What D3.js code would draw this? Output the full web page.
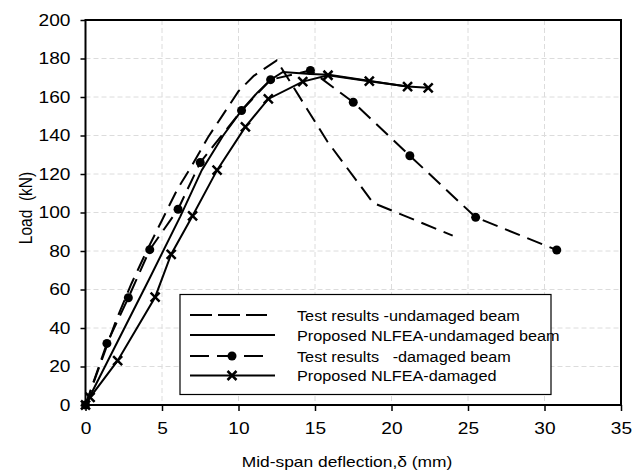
<!DOCTYPE html>
<html>
<head>
<meta charset="utf-8">
<script src="https://cdn.jsdelivr.net/npm/d3@7"></script>
<style>
  html, body { margin: 0; padding: 0; background: #fff; }
  svg { display: block; }
  text { font-family: "Liberation Sans", Arial, sans-serif; fill: #000; }
</style>
</head>
<body>
<svg id="chart" width="641" height="474"></svg>
<script>
// ---- data ----
const xTicks = [0, 5, 10, 15, 20, 25, 30, 35];
const yTicks = [0, 20, 40, 60, 80, 100, 120, 140, 160, 180, 200];

const testUndamagedX = [0, 1, 2, 3, 4, 5, 6, 7, 8, 9, 10, 11, 12.5, 15.8, 18.8, 24];
const testUndamagedY = [0, 22, 44, 63, 80, 96, 112, 125, 139, 151, 163, 171, 179, 137, 105, 88];

const nlfeaUndamagedX = [0, 2.1, 4.2, 6.2, 7.6, 9, 10.2, 11.2, 12.1, 12.9, 14.7, 15.9, 18.5, 21];
const nlfeaUndamagedY = [0, 33, 66, 98, 122, 140, 153, 162, 169, 173, 172, 171.5, 168.5, 165.5];

const testDamagedX = [0, 1.4, 2.8, 4.2, 6.05, 7.5, 10.2, 12.1, 14.7, 17.5, 21.2, 25.5, 30.8];
const testDamagedY = [0, 32, 55.7, 80.7, 101.7, 126, 153, 169, 173.8, 157.3, 129.5, 97.5, 80.5];

const nlfeaDamagedX = [0, 0.3, 2.1, 4.55, 5.6, 7.0, 8.6, 10.45, 11.95, 14.2, 15.85, 18.55, 21.05, 22.4];
const nlfeaDamagedY = [0, 4, 23, 56, 78.3, 98.3, 122, 144.5, 159, 168, 171.3, 168.2, 165.4, 164.8];

const legendLabels = [
  "Test results -undamaged beam",
  "Proposed NLFEA-undamaged beam",
  "Test results   -damaged beam",
  "Proposed NLFEA-damaged"
];

// ---- layout ----
const SX = 1.16; // horizontal stretch of the text in the original picture
const svg = d3.select("#chart");
const L = 85.5, R = 621, T = 20, B = 405;
const x = d3.scaleLinear().domain([0, 35]).range([L, R]);
const y = d3.scaleLinear().domain([0, 200]).range([B, T]);

// grid
const grid = svg.append("g");
grid.selectAll("line.h").data(yTicks.slice(1, -1)).enter().append("line")
  .attr("x1", L).attr("x2", R).attr("y1", d => y(d)).attr("y2", d => y(d))
  .attr("stroke", "#dcdcdc").attr("stroke-width", 1).attr("stroke-dasharray", "5,3");
grid.selectAll("line.v").data(xTicks.slice(1, -1)).enter().append("line")
  .attr("y1", T).attr("y2", B).attr("x1", d => x(d)).attr("x2", d => x(d))
  .attr("stroke", "#dcdcdc").attr("stroke-width", 1).attr("stroke-dasharray", "5,3");

// axes
const xAxis = d3.axisBottom(x).tickValues(xTicks).tickSize(6).tickPadding(11).tickFormat(d3.format("d"));
const yAxis = d3.axisLeft(y).tickValues(yTicks).tickSize(5).tickPadding(10).tickFormat(d3.format("d"));
const gx = svg.append("g").attr("transform", `translate(0,${B})`).call(xAxis);
const gy = svg.append("g").attr("transform", `translate(${L},0)`).call(yAxis);
[gx, gy].forEach(g => {
  g.select(".domain").remove();
  g.selectAll(".tick line").attr("stroke", "#000").attr("stroke-width", 1.5);
  g.selectAll(".tick text")
    .style("font-size", "16.5px")
    .style("font-family", "'Liberation Sans', Arial, sans-serif")
    .attr("fill", "#000")
    .each(function () {
      const t = d3.select(this);
      const xv = +t.attr("x") || 0;
      t.attr("x", xv / SX).attr("transform", `scale(${SX},1)`);
    });
});

// frame
svg.append("rect").attr("x", L).attr("y", T).attr("width", R - L).attr("height", B - T)
  .attr("fill", "none").attr("stroke", "#000").attr("stroke-width", 2);

// lines
const line = d3.line().x(d => x(d[0])).y(d => y(d[1]));
const zip = (a, b) => a.map((v, i) => [v, b[i]]);

const series = [
  { pts: zip(testUndamagedX, testUndamagedY), dash: "16,8", marker: null },
  { pts: zip(nlfeaUndamagedX, nlfeaUndamagedY), dash: null, marker: null },
  { pts: zip(testDamagedX, testDamagedY), dash: "16,8", marker: "dot" },
  { pts: zip(nlfeaDamagedX, nlfeaDamagedY), dash: null, marker: "x" }
];

const plot = svg.append("g");
series.forEach(s => {
  plot.append("path").attr("d", line(s.pts)).attr("fill", "none")
    .attr("stroke", "#000").attr("stroke-width", 2)
    .attr("stroke-dasharray", s.dash);
});

function drawMarker(g, type, cx, cy) {
  if (type === "dot") {
    g.append("circle").attr("cx", cx).attr("cy", cy).attr("r", 4.5).attr("fill", "#000");
  } else if (type === "x") {
    const s = 4.5;
    g.append("path").attr("d", `M${cx - s},${cy - s}L${cx + s},${cy + s}M${cx - s},${cy + s}L${cx + s},${cy - s}`)
      .attr("stroke", "#000").attr("stroke-width", 2.5);
  }
}
series.forEach(s => {
  if (!s.marker) return;
  s.pts.forEach(p => drawMarker(plot, s.marker, x(p[0]), y(p[1])));
});

// legend
const lg = svg.append("g");
lg.append("rect").attr("x", 180).attr("y", 294.5).attr("width", 371).attr("height", 100)
  .attr("fill", "#fff").attr("stroke", "#000").attr("stroke-width", 1.2);
const rowsY = [315, 335, 356, 375.5];
const legDash = ["22,6", null, "19,8", null];
const legMark = [null, null, "dot", "x"];
legendLabels.forEach((lab, i) => {
  const yy = rowsY[i];
  lg.append("line").attr("x1", 190).attr("x2", i === 1 || i === 3 ? 275 : 267).attr("y1", yy).attr("y2", yy)
    .attr("stroke", "#000").attr("stroke-width", 2).attr("stroke-dasharray", legDash[i]);
  if (legMark[i]) drawMarker(lg, legMark[i], 232, yy);
  lg.append("g").attr("transform", `translate(297,${yy + 5.5})`)
    .append("text").attr("transform", `scale(${SX},1)`)
    .style("font-size", "14px").style("white-space", "pre").text(lab);
});

// axis titles
svg.append("g").attr("transform", "translate(347,467)")
  .append("text").attr("transform", `scale(${SX},1)`).attr("text-anchor", "middle")
  .style("font-size", "15px").text("Mid-span deflection,δ (mm)");
svg.append("g").attr("transform", "translate(32,208) rotate(-90)")
  .append("text").attr("transform", `scale(1,${SX})`).attr("text-anchor", "middle")
  .style("font-size", "15.5px").style("white-space", "pre").text("Load  (kN)");
</script>
</body>
</html>
